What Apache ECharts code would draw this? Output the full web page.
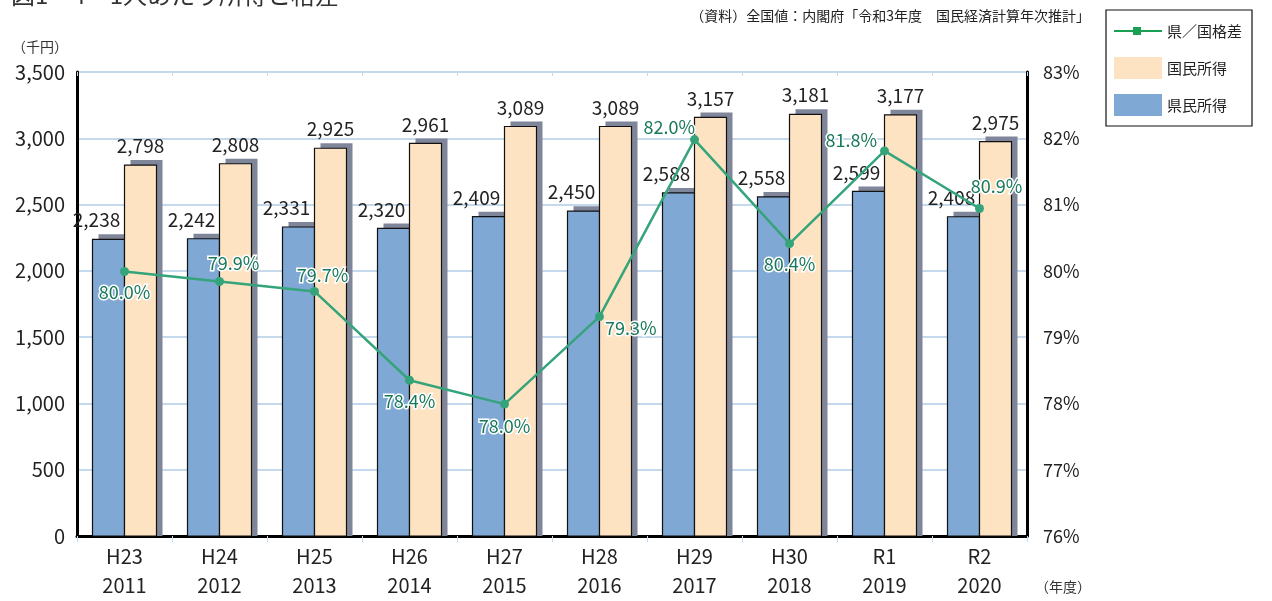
<!DOCTYPE html>
<html><head><meta charset="utf-8">
<script src="https://cdn.jsdelivr.net/npm/echarts@6/dist/echarts.min.js"></script>
<style>html,body{margin:0;padding:0;background:#fff}#c{width:1272px;height:601px}</style>
</head><body><div id="c"></div>
<script>
const categories = ['H23\n2011','H24\n2012','H25\n2013','H26\n2014','H27\n2015','H28\n2016','H29\n2017','H30\n2018','R1\n2019','R2\n2020'];
const prefIncome = [2238,2242,2331,2320,2409,2450,2588,2558,2599,2408];
const natIncome = [2798,2808,2925,2961,3089,3089,3157,3181,3177,2975];
const ratio = [79.99,79.84,79.69,78.35,77.99,79.31,81.98,80.41,81.81,80.94];
const ratioLabels = ['80.0%','79.9%','79.7%','78.4%','78.0%','79.3%','82.0%','80.4%','81.8%','80.9%'];

const FONT = '"Noto Sans CJK JP","Noto Sans",sans-serif';
const BAR_W = 32, SH_X = 6, SH_Y = 5;
const labelPos = [
  {position:'bottom',offset:[0,2]},
  {position:'top',offset:[14,0]},
  {position:'top',offset:[8,2]},
  {position:'bottom',offset:[0,2]},
  {position:'bottom',offset:[0,4]},
  {position:'right',offset:[-4,12]},
  {position:'left',offset:[10,-12]},
  {position:'bottom',offset:[0,2]},
  {position:'left',offset:[2,-11]},
  {position:'top',offset:[17,-4]}
];
const lineData = ratio.map((v,i)=>({value:v,label:Object.assign({formatter:ratioLabels[i]},labelPos[i])}));

function barRenderer(fill, side, labelOffset){
  return function(params, api){
    const idx = api.value(0), val = api.value(1);
    const top = api.coord([idx, val]);
    const base = api.coord([idx, 0]);
    const x = side < 0 ? top[0] - BAR_W : top[0];
    const h = base[1] - top[1];
    return {
      type:'group',
      children:[
        {type:'rect',shape:{x:x+SH_X,y:top[1]-SH_Y,width:BAR_W,height:h+SH_Y},style:{fill:'#80869a'}},
        {type:'rect',shape:{x:x,y:top[1],width:BAR_W,height:h},
         style:{fill:fill,stroke:'#111',lineWidth:1.2},
         textContent:{style:{text:val.toLocaleString('en-US'),fontSize:19,fill:'#222',fontFamily:FONT}},
         textConfig:{position:'top',distance:9,offset:labelOffset}}
      ]
    };
  };
}

const chart = echarts.init(document.getElementById('c'));
chart.setOption({
  animation:false,
  textStyle:{fontFamily:FONT},
  title:{text:'図1－4　1人あたり所得と格差',left:6,top:-22,textStyle:{fontSize:24,fontWeight:'normal',color:'#333',fontFamily:FONT}},
  graphic:[
    {type:'text',right:182,top:9,style:{text:'（資料）全国値：内閣府「令和3年度　国民経済計算年次推計」',fontSize:14,fill:'#222',fontFamily:FONT}},
    {type:'text',left:12,top:40,style:{text:'（千円）',fontSize:14,fill:'#333',fontFamily:FONT}},
    {type:'text',left:1035,top:580,style:{text:'（年度）',fontSize:14,fill:'#333',fontFamily:FONT}}
  ],
  legend:{
    orient:'vertical',left:1106,top:10,width:158,
    padding:[10,10,10,8],itemGap:15,itemWidth:48,itemHeight:22,
    borderColor:'#111',borderWidth:1.2,
    itemStyle:{borderWidth:0},
    textStyle:{fontSize:15,color:'#222',fontFamily:FONT},
    data:[
      {name:'県／国格差',icon:'path://M0,0M0,22M0,10H19V7H27V10H48V12H27V15H19V12H0Z',itemStyle:{color:'#1aa055'}},
      {name:'国民所得',icon:'rect'},
      {name:'県民所得',icon:'rect'}
    ]
  },
  grid:{left:77,right:245,top:72,bottom:65,outerBoundsMode:'none',containLabel:false},
  xAxis:[{
    type:'category',data:categories,
    axisLine:{lineStyle:{color:'#000',width:3}},
    axisTick:{show:true,length:6,lineStyle:{color:'#c5d9ec',width:1}},
    axisLabel:{fontSize:20,color:'#222',lineHeight:29,margin:6,fontFamily:FONT}
  },{
    type:'category',data:categories,position:'top',
    axisLine:{show:false},
    axisTick:{show:true,inside:true,length:4,lineStyle:{color:'#c5d9ec'}},
    axisLabel:{show:false}
  }],
  yAxis:[{
    type:'value',min:0,max:3500,interval:500,
    axisLine:{show:true,lineStyle:{color:'#000',width:3}},
    axisTick:{show:false},
    splitLine:{lineStyle:{color:'#c5d9ec',width:2}},
    axisLabel:{fontSize:20,color:'#222',margin:12,fontFamily:FONT,
      formatter:v=>v.toLocaleString('en-US')}
  },{
    type:'value',min:76,max:83,interval:1,position:'right',
    axisLine:{show:true,lineStyle:{color:'#000',width:3}},
    axisTick:{show:false},splitLine:{show:false},
    axisLabel:{fontSize:18,color:'#222',margin:16,fontFamily:FONT,formatter:v=>v+'%'}
  }],
  series:[
    {name:'県民所得',type:'custom',data:prefIncome.map((v,i)=>[i,v]),
     itemStyle:{color:'#7fa8d4'},renderItem:barRenderer('#7fa8d4',-1,[-12,0]),z:2},
    {name:'国民所得',type:'custom',data:natIncome.map((v,i)=>[i,v]),
     itemStyle:{color:'#fde3c2'},renderItem:barRenderer('#fde3c2',1,[0,0]),z:3},
    {name:'県／国格差',type:'line',yAxisIndex:1,data:lineData,
     symbol:'circle',symbolSize:9,
     lineStyle:{color:'#35a47a',width:2.5},
     itemStyle:{color:'#35a47a'},
     label:{show:true,fontSize:18,color:'#17785a',textBorderColor:'#fff',textBorderWidth:3,fontFamily:FONT},
     z:5}
  ]
});
</script></body></html>
